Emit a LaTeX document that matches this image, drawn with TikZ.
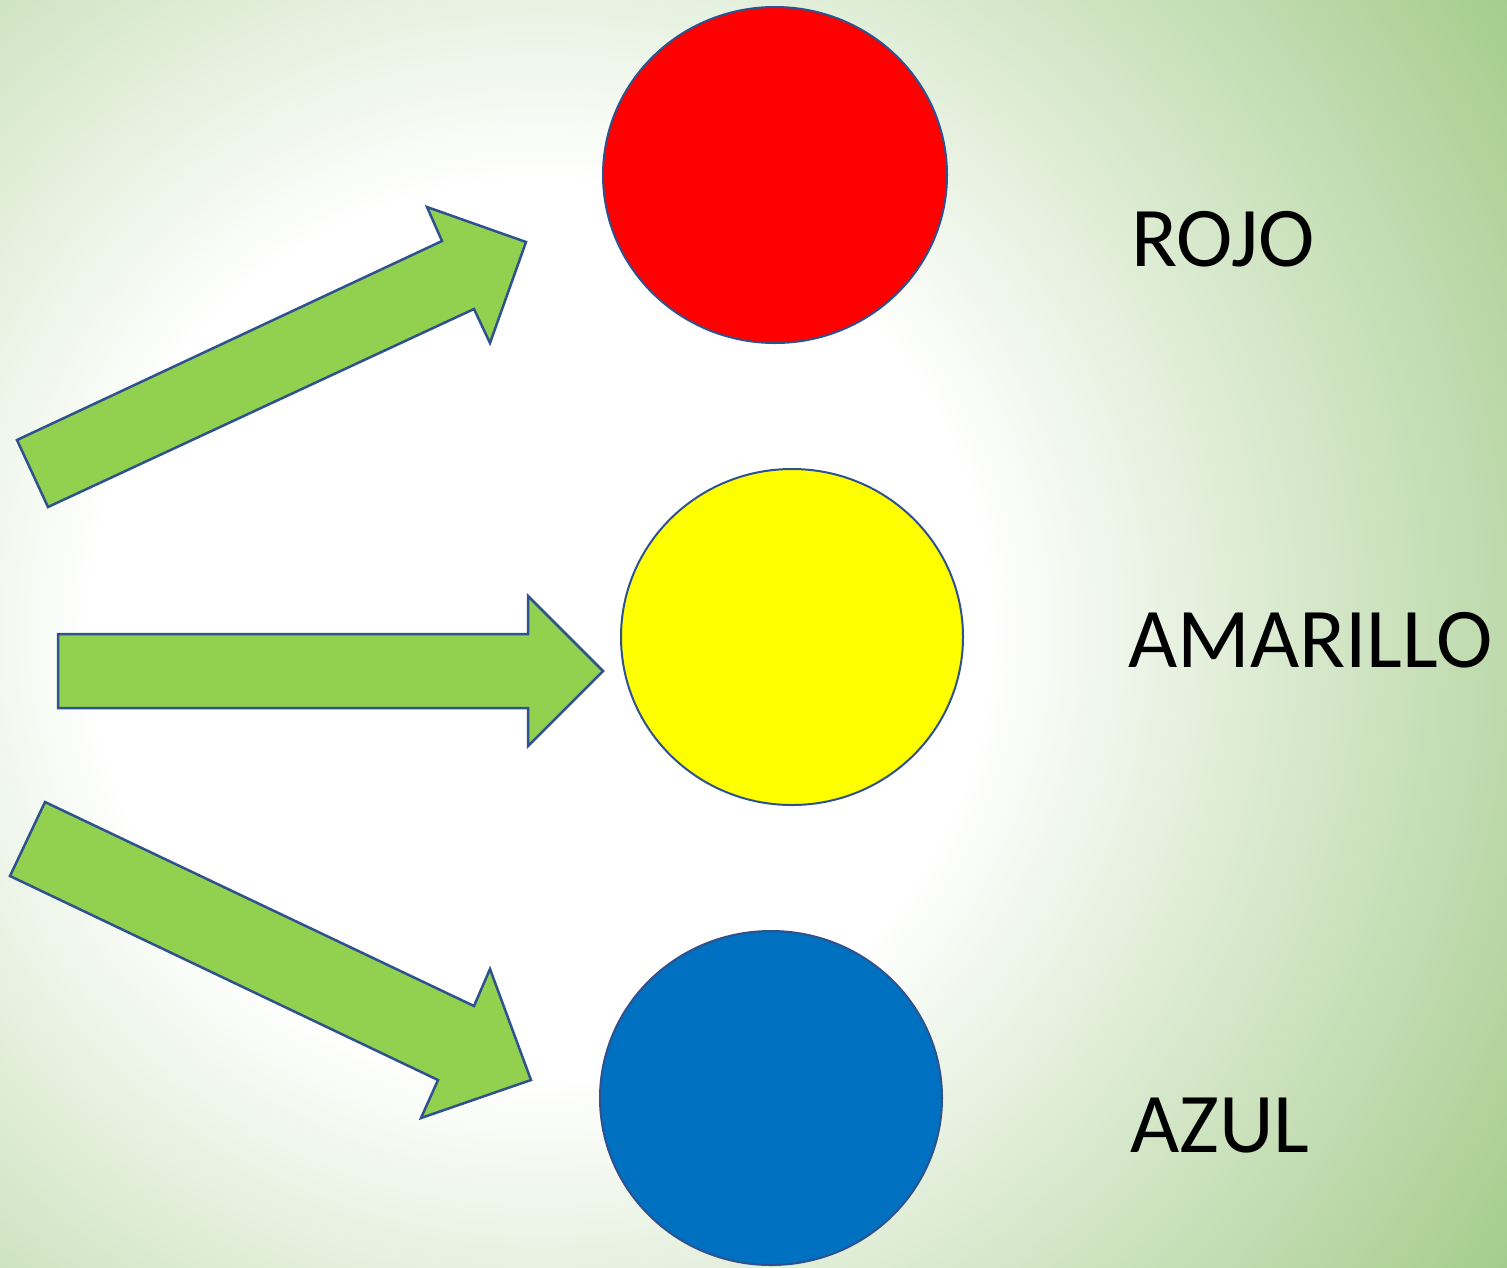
\documentclass[tikz,border=0pt]{standalone}
\usepackage{fontspec}
\setmainfont{Carlito}
\usetikzlibrary{shapes.geometric}
\definecolor{bggreen}{HTML}{A3CB8A}
\definecolor{arrowgreen}{HTML}{92D050}
\definecolor{edgeblue}{HTML}{2F528F}
\definecolor{rojoc}{HTML}{FF0000}
\definecolor{amarilloc}{HTML}{FFFF00}
\definecolor{azulc}{HTML}{0070C0}
\pgfdeclareradialshading{bgshade}{\pgfpoint{0bp}{0bp}}{color(0bp)=(white); color(447bp)=(white); color(1171bp)=(bggreen); color(1300bp)=(bggreen)}
\begin{document}
\begin{tikzpicture}[x=1bp,y=-1bp,
  dot/.style={ellipse, draw=edgeblue, line width=2bp, inner sep=0pt},
  blockarrow/.style={fill=arrowgreen, draw=edgeblue, line width=2.5bp, line join=miter},
  colorlabel/.style={anchor=base west, inner sep=0pt, font=\fontsize{85bp}{100bp}\selectfont}]
\useasboundingbox (0,0) rectangle (1507,1267);
\begin{scope}
\clip (0,0) rectangle (1507,1267);
\node[inner sep=0pt, outer sep=0pt] (bg) at (540,630) {\pgfuseshading{bgshade}};
\end{scope}
% circles
\node[dot, fill=rojoc, minimum width=344bp, minimum height=336bp] (rojo) at (775,175) {};
\node[dot, fill=amarilloc, minimum width=342bp, minimum height=336bp] (amarillo) at (792,637) {};
\node[dot, fill=azulc, minimum width=342bp, minimum height=334bp] (azul) at (771,1098) {};
% arrows
\draw[blockarrow] (17,440) -- (442,241) -- (427,207) -- (526,242) -- (490,343) -- (474,309) -- (48,507) -- cycle;
\draw[blockarrow] (58,634) -- (528,634) -- (528,596) -- (603,671) -- (528,746) -- (528,708) -- (58,708) -- cycle;
\draw[blockarrow] (45,802) -- (474,1006) -- (490,969) -- (531,1080) -- (421,1118) -- (438,1080) -- (10,876) -- cycle;
% labels
\node[colorlabel] (lrojo) at (1131,266) {ROJO};
\node[colorlabel] (lamarillo) at (1128,667) {AMARILLO};
\node[colorlabel] (lazul) at (1130,1152) {AZUL};
\end{tikzpicture}
\end{document}
